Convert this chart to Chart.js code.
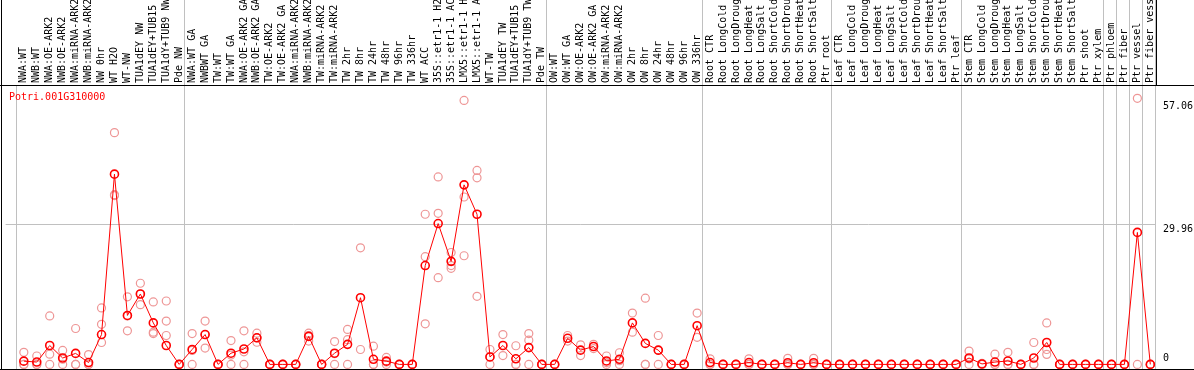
<!DOCTYPE html>
<html>
<head>
<script src="https://cdnjs.cloudflare.com/ajax/libs/Chart.js/4.4.0/chart.umd.min.js"></script>
<style>
  body { margin: 0; background: #fff; }
  #wrap { width: 1194px; height: 370px; }
</style>
</head>
<body>
<div id="wrap"><canvas id="myChart" width="1194" height="370"></canvas></div>
<script>
var geneName = "Potri.001G310000";

var categories = [
  "NWA:WT", "NWB:WT", "NWA:OE-ARK2", "NWB:OE-ARK2", "NWA:miRNA-ARK2", "NWB:miRNA-ARK2",
  "NW 0hr", "WT H2O", "WT-NW", "TUA1dEY NW", "TUA1dEY+TUB15", "TUA1dY+TUB9 NW", "Pde NW",
  "NWA:WT GA", "NWBWT GA", "TW:WT", "TW:WT GA", "NWA:OE-ARK2 GA", "NWB:OE-ARK2 GA",
  "TW:OE-ARK2", "TW:OE-ARK2 GA", "NWA:miRNA-ARK2", "NWB:miRNA-ARK2", "TW:miRNA-ARK2",
  "TW:miRNA-ARK2", "TW 2hr", "TW 8hr", "TW 24hr", "TW 48hr", "TW 96hr", "TW 336hr",
  "WT ACC", "35S::etr1-1 H2O", "35S::etr1-1 ACC", "LMX5::etr1-1 H2O", "LMX5::etr1-1 ACC",
  "WT-TW", "TUA1dEY TW", "TUA1dEY+TUB15", "TUA1dY+TUB9 TW", "Pde TW",
  "OW:WT", "OW:WT GA", "OW:OE-ARK2", "OW:OE-ARK2 GA", "OW:miRNA-ARK2", "OW:miRNA-ARK2",
  "OW 2hr", "OW 8hr", "OW 24hr", "OW 48hr", "OW 96hr", "OW 336hr",
  "Root CTR", "Root LongCold", "Root LongDrought", "Root LongHeat", "Root LongSalt",
  "Root ShortCold", "Root ShortDrought", "Root ShortHeat", "Root ShortSalt", "Ptr root",
  "Leaf CTR", "Leaf LongCold", "Leaf LongDrought", "Leaf LongHeat", "Leaf LongSalt",
  "Leaf ShortCold", "Leaf ShortDrought", "Leaf ShortHeat", "Leaf ShortSalt", "Ptr leaf",
  "Stem CTR", "Stem LongCold", "Stem LongDrought", "Stem LongHeat", "Stem LongSalt",
  "Stem ShortCold", "Stem ShortDrought", "Stem ShortHeat", "Stem ShortSalt", "Ptr shoot",
  "Ptr xylem", "Ptr phloem", "Ptr fiber", "Ptr vessel", "Ptr fiber vessel"
];

// index of first sample of each group (last entry = end of last group)
var groupStarts = [0, 13, 41, 53, 63, 73, 84, 85, 86, 87, 88];

var means = [
  0.7, 0.5, 4.05, 1.37, 2.36, 0.4, 6.4, 40.8, 10.5, 15.1,
  8.9, 4.05, 0, 3.2, 6.4, 0, 2.4, 3.3, 5.7, 0,
  0, 0, 6.0, 0, 2.4, 4.3, 14.3, 1.1, 0.7, 0,
  0, 21.2, 30.2, 22.1, 38.5, 32.2, 1.6, 4.05, 1.2, 3.6,
  0, 0, 5.6, 3.06, 3.84, 0.74, 1.1, 8.9, 4.5, 3.06,
  0, 0, 8.3, 0.4, 0, 0, 0.4, 0, 0, 0.35,
  0, 0.35, 0, 0, 0, 0, 0, 0, 0, 0,
  0, 0, 0, 1.37, 0.1, 0.5, 0.74, 0, 1.37, 4.7,
  0, 0, 0, 0, 0, 0, 28.3, 0
];

var rep1 = [
  2.6, 1.8, 10.4, 3.0, 7.7, 2.1, 12.1, 49.7, 14.5, 17.4,
  13.4, 13.6, 0, 6.6, 9.3, 0, 5.1, 7.2, 6.7, 0,
  0, 0, 6.7, 0, 4.9, 7.5, 25.0, 3.9, 1.5, 0,
  0, 32.2, 40.2, 24.0, 56.6, 41.6, 3.2, 6.4, 4.0, 6.6,
  0, 0, 6.2, 4.2, 4.3, 1.8, 2.5, 11.0, 14.2, 6.2,
  0, 0, 11.0, 1.2, 0, 0, 1.2, 0, 0, 1.3,
  0, 1.3, 0, 0, 0, 0, 0, 0, 0, 0,
  0, 0, 0, 2.85, 0.2, 2.2, 2.6, 0, 4.7, 8.9,
  0, 0, 0, 0, 0, 0, 57.06, 0
];

var rep2 = [
  0, 0, 2.2, 1.1, 0, 0, 8.6, 36.4, 10.4, 12.8,
  6.9, 9.3, 0, 3.0, 6.4, 0, 2.0, 2.7, 4.75, 0,
  0, 0, 6.2, 0, 2.3, 5.3, 3.2, 0, 0.5, 0,
  0, 23.1, 32.4, 21.2, 35.9, 40.0, 1.6, 1.9, 0, 5.2,
  0, 0, 5.0, 1.9, 3.4, 0.4, 0.8, 6.9, 0, 3.0,
  0, 0, 5.8, 0, 0, 0, 0, 0, 0, 0,
  0, 0, 0, 0, 0, 0, 0, 0, 0, 0,
  0, 0, 0, 1.2, 0, 0, 0, 0, 0, 3.2,
  0, 0, 0, 0, 0, 0, 0, 0
];

var rep3 = [
  0, 0, 0, 0, 0, 0, 4.7, 36.2, 7.2, 15.1,
  6.6, 6.2, 0, 0, 3.5, 0, 0, 0, 5.7, 0,
  0, 0, 5.0, 0, 0, 0, null, 0, 0, 0,
  0, 8.7, 18.6, 20.6, 23.3, 14.6, 0, null, 0, 0,
  0, 0, null, null, null, 0, 0, null, 0, 0,
  0, 0, null, 0, 0, 0, 0, 0, 0, 0,
  0, 0, 0, 0, 0, 0, 0, 0, 0, 0,
  0, 0, 0, 0, 0, 0, 0, 0, 0, 2.15,
  0, 0, 0, 0, 0, 0, null, 0
];

var yMax = 57.06;
var yMid = 29.96;
var yLabels = [57.06, 29.96, 0];

function toPoints(arr) {
  var pts = [];
  for (var i = 0; i < arr.length; i++) {
    if (arr[i] !== null) pts.push({x: i, y: arr[i]});
  }
  return pts;
}

var reps = toPoints(rep1).concat(toPoints(rep2)).concat(toPoints(rep3));

// 13px per sample, first sample 18px from the plot's left edge
var xMin = -18.3 / 13;
var xMax = xMin + 1155 / 13;

var framePlugin = {
  id: 'frame',
  beforeDatasetsDraw: function(chart) {
    var ctx = chart.ctx;
    var ca = chart.chartArea;
    var xs = chart.scales.x;
    ctx.save();
    // group separators
    ctx.fillStyle = '#c0c0c0';
    for (var g = 0; g < groupStarts.length; g++) {
      var px = Math.round(xs.getPixelForValue(groupStarts[g] - 0.64));
      var top = g === 0 ? ca.top : 0;
      ctx.fillRect(px, top, 1, 369 - top);
    }
    // black frame
    ctx.fillStyle = '#000';
    ctx.fillRect(0, 85, chart.width, 1);
    ctx.fillRect(0, 369, chart.width, 1);
    ctx.fillRect(1, 0, 1, chart.height);
    ctx.fillRect(Math.round(ca.right), 0, 1, 85);
    ctx.restore();
  },
  afterDraw: function(chart) {
    var ctx = chart.ctx;
    var ys = chart.scales.y;
    ctx.save();
    ctx.font = '10px "DejaVu Sans Mono"';
    ctx.fillStyle = '#ff0000';
    ctx.textBaseline = 'top';
    ctx.fillText(geneName, 9, 92);
    ctx.fillStyle = '#000';
    ctx.textBaseline = 'middle';
    for (var i = 0; i < yLabels.length; i++) {
      var py = ys.getPixelForValue(yLabels[i]);
      var off = yLabels[i] === 0 ? -6 : (yLabels[i] === yMax ? 8 : 5);
      ctx.fillText(String(yLabels[i]), 1163, py + off);
    }
    ctx.restore();
  }
};

var ctx = document.getElementById("myChart").getContext("2d");
var myChart = new Chart(ctx, {
  type: 'line',
  data: {
    datasets: [
      {
        label: 'mean',
        data: toPoints(means),
        borderColor: '#ff0000',
        borderWidth: 1,
        pointRadius: 4,
        pointBorderWidth: 1.6,
        pointBorderColor: '#ff0000',
        pointBackgroundColor: 'rgba(255,255,255,0)',
        tension: 0,
        clip: false
      },
      {
        type: 'scatter',
        label: 'replicates',
        data: reps,
        showLine: false,
        pointRadius: 4,
        pointBorderWidth: 1.2,
        pointBorderColor: 'rgb(238,150,150)',
        pointBackgroundColor: 'rgba(255,255,255,0)',
        clip: false
      }
    ]
  },
  options: {
    responsive: false,
    animation: false,
    events: [],
    layout: { padding: { left: 1, right: 38, top: 0, bottom: 1.5 } },
    plugins: { legend: { display: false }, tooltip: { enabled: false } },
    scales: {
      x: {
        type: 'linear',
        position: 'top',
        min: xMin,
        max: xMax,
        afterBuildTicks: function(scale) {
          scale.ticks = categories.map(function(c, i) { return {value: i}; });
        },
        afterFit: function(scale) {
          scale.height = 85;
          scale.paddingLeft = 0;
          scale.paddingRight = 0;
        },
        grid: { display: false, drawTicks: false },
        border: { display: false },
        ticks: {
          autoSkip: false,
          minRotation: 90,
          maxRotation: 90,
          padding: 2,
          labelOffset: 12,
          color: '#000',
          font: { family: 'DejaVu Sans Mono', size: 10 },
          callback: function(v) { return categories[v]; }
        }
      },
      y: {
        position: 'right',
        min: 0,
        max: yMax * 1.05,
        afterBuildTicks: function(scale) {
          scale.ticks = [{value: yMid}];
        },
        grid: { color: '#c0c0c0', drawTicks: false },
        border: { display: false },
        ticks: { display: false }
      }
    }
  },
  plugins: [framePlugin]
});
</script>
</body>
</html>
